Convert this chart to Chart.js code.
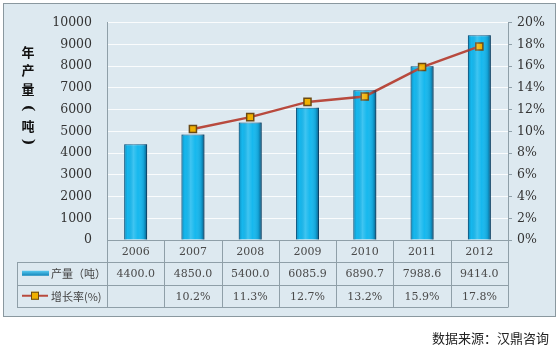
<!DOCTYPE html>
<html><head><meta charset="utf-8">
<script src="https://cdn.jsdelivr.net/npm/chart.js@4"></script>
<style>html,body{margin:0;padding:0;background:#fff}</style>
</head><body>
<canvas id="c" width="559" height="349"></canvas>
<script>
const years = ['2006','2007','2008','2009','2010','2011','2012'];
const output = [4400.0, 4850.0, 5400.0, 6085.9, 6890.7, 7988.6, 9414.0];
const growth = [null, 10.2, 11.3, 12.7, 13.2, 15.9, 17.8];
const outputLabels = ['4400.0','4850.0','5400.0','6085.9','6890.7','7988.6','9414.0'];
const growthLabels = ['','10.2%','11.3%','12.7%','13.2%','15.9%','17.8%'];
const seriesNames = ['产量（吨）','增长率(%)'];
const yTitleChars = ['年','产','量','(','吨',')'];
const sourceText = '数据来源：汉鼎咨询';

const BG = '#dde9f0';
const GRIDC = '#8f9fa8';
const SERIF = '"DejaVu Serif", serif';
const CJK = '"Noto Sans CJK SC", sans-serif';

const framePlugin = {
  id: 'frame',
  beforeDraw(chart) {
    const c = chart.ctx;
    c.save();
    c.fillStyle = '#fff';
    c.fillRect(0, 0, chart.width, chart.height);
    c.fillStyle = BG;
    c.fillRect(3.5, 3.5, 552, 313);
    c.strokeStyle = '#8a989f';
    c.lineWidth = 1;
    c.strokeRect(3.5, 3.5, 552, 313);
    c.restore();
  },
  afterDatasetsDraw(chart) {
    const c = chart.ctx;
    const meta = chart.getDatasetMeta(1);
    c.save();
    meta.data.forEach(el => {
      const l = el.x - el.width / 2, r = el.x + el.width / 2;
      const g = c.createLinearGradient(l, 0, r, 0);
      g.addColorStop(0, 'rgba(0,60,100,0.35)');
      g.addColorStop(0.15, 'rgba(0,60,100,0)');
      g.addColorStop(0.4, 'rgba(255,255,255,0.18)');
      g.addColorStop(0.6, 'rgba(255,255,255,0)');
      g.addColorStop(0.85, 'rgba(0,40,80,0.15)');
      g.addColorStop(1, 'rgba(0,30,60,0.6)');
      c.fillStyle = g;
      c.fillRect(l, el.y, el.width, el.base - el.y);
    });
    c.restore();
  },
  afterDraw(chart) {
    const c = chart.ctx;
    const xs = chart.scales.x;
    const top = chart.chartArea.bottom;
    const r1 = top + 22, r2 = top + 44.5, r3 = top + 67;
    const tableLeft = 17;
    const step = (xs.right - xs.left) / years.length;
    c.save();
    c.strokeStyle = GRIDC;
    c.lineWidth = 1;
    c.beginPath();
    [r1, r2, r3].forEach(y => { c.moveTo(tableLeft, Math.round(y) + 0.5); c.lineTo(xs.right, Math.round(y) + 0.5); });
    for (let k = 0; k <= years.length; k++) {
      const x = Math.round(xs.left + k * step) + 0.5;
      c.moveTo(x, top); c.lineTo(x, Math.round(r3) + 0.5);
    }
    c.moveTo(tableLeft + 0.5, Math.round(r1)); c.lineTo(tableLeft + 0.5, Math.round(r3) + 0.5);
    c.stroke();

    c.textAlign = 'center';
    c.textBaseline = 'middle';
    c.font = '11px ' + SERIF;
    c.fillStyle = '#4a4a4a';
    years.forEach((y, i) => {
      const x = xs.getPixelForValue(i);
      c.fillText(y, x, (top + r1) / 2 + 1);
      c.fillText(outputLabels[i], x, (r1 + r2) / 2 + 1);
      c.fillText(growthLabels[i], x, (r2 + r3) / 2 + 1);
    });
    const ly2 = (r1 + r2) / 2, ly3 = (r2 + r3) / 2;
    const g = c.createLinearGradient(0, ly2 - 3, 0, ly2 + 3);
    g.addColorStop(0, '#5fd0f5'); g.addColorStop(1, '#0a7fb5');
    c.fillStyle = g;
    c.fillRect(22, ly2 - 2.5, 27, 5);
    c.strokeStyle = '#b84a3e';
    c.lineWidth = 2;
    c.beginPath(); c.moveTo(22, ly3); c.lineTo(48, ly3); c.stroke();
    c.fillStyle = '#f0b000';
    c.fillRect(31, ly3 - 4, 8, 8);
    c.strokeStyle = '#6b4a14'; c.lineWidth = 1;
    c.strokeRect(31.5, ly3 - 3.5, 7, 7);
    c.textAlign = 'left';
    c.fillStyle = '#444';
    c.font = '11px ' + CJK;
    c.fillText(seriesNames[0], 51, ly2 + 1);
    c.fillText(seriesNames[1], 51, ly3 + 1);

    // y title (stacked, parentheses rotated)
    c.textAlign = 'center';
    c.fillStyle = '#111';
    c.font = 'bold 13px ' + CJK;
    const ty = [52, 70, 89, 108, 126, 142];
    yTitleChars.forEach((ch, i) => {
      if (ch === '(' || ch === ')') {
        c.save();
        c.translate(28, ty[i]);
        c.rotate(Math.PI / 2);
        c.font = 'bold 14px ' + SERIF;
        c.fillText(ch, 0, 0);
        c.restore();
      } else {
        c.fillText(ch, 28, ty[i]);
      }
    });

    c.textAlign = 'right';
    c.font = '13px ' + CJK;
    c.fillStyle = '#222';
    c.fillText(sourceText, 549, 338);
    c.restore();
  }
};

new Chart(document.getElementById('c'), {
  data: {
    labels: years,
    datasets: [
      {
        type: 'line', label: seriesNames[1], data: growth, yAxisID: 'y2', order: 0,
        borderColor: '#b84a3e', borderWidth: 2.5, tension: 0,
        pointStyle: 'rect', pointRadius: 5, pointBackgroundColor: '#f0b000',
        pointBorderColor: '#6b4a14', pointBorderWidth: 1.5, spanGaps: false
      },
      {
        type: 'bar', label: seriesNames[0], data: output, yAxisID: 'y', order: 1,
        backgroundColor: '#16b8ee', borderColor: '#0b5f8a',
        borderWidth: {top: 1, left: 1, right: 1, bottom: 0},
        categoryPercentage: 1, barPercentage: 0.4, borderSkipped: 'bottom'
      }
    ]
  },
  options: {
    responsive: false, animation: false, devicePixelRatio: 1,
    layout: { padding: { left: 0, right: 0, top: 21, bottom: 109 } },
    plugins: { legend: { display: false }, tooltip: { enabled: false } },
    scales: {
      x: {
        offset: true,
        grid: { display: false, drawTicks: false },
        border: { display: true, color: GRIDC },
        ticks: { display: false },
        afterFit(s) { s.height = 0; }
      },
      y: {
        position: 'left', min: 0, max: 10000,
        ticks: { stepSize: 1000, padding: 15, color: '#333', font: { family: 'DejaVu Serif', size: 12.5 }, callback: v => String(v) },
        grid: { color: 'rgba(255,255,255,0.85)', drawTicks: false, lineWidth: 1 },
        border: { display: true, color: GRIDC },
        afterFit(s) { s.width = 107; }
      },
      y2: {
        position: 'right', min: 0, max: 20,
        ticks: { stepSize: 2, padding: 5, color: '#333', font: { family: 'DejaVu Serif', size: 12.5 }, callback: v => v + '%' },
        grid: { drawOnChartArea: false, drawTicks: true, tickLength: 4, color: GRIDC },
        border: { display: true, color: GRIDC },
        afterFit(s) { s.width = 51; }
      }
    }
  },
  plugins: [framePlugin]
});
</script>
</body></html>
